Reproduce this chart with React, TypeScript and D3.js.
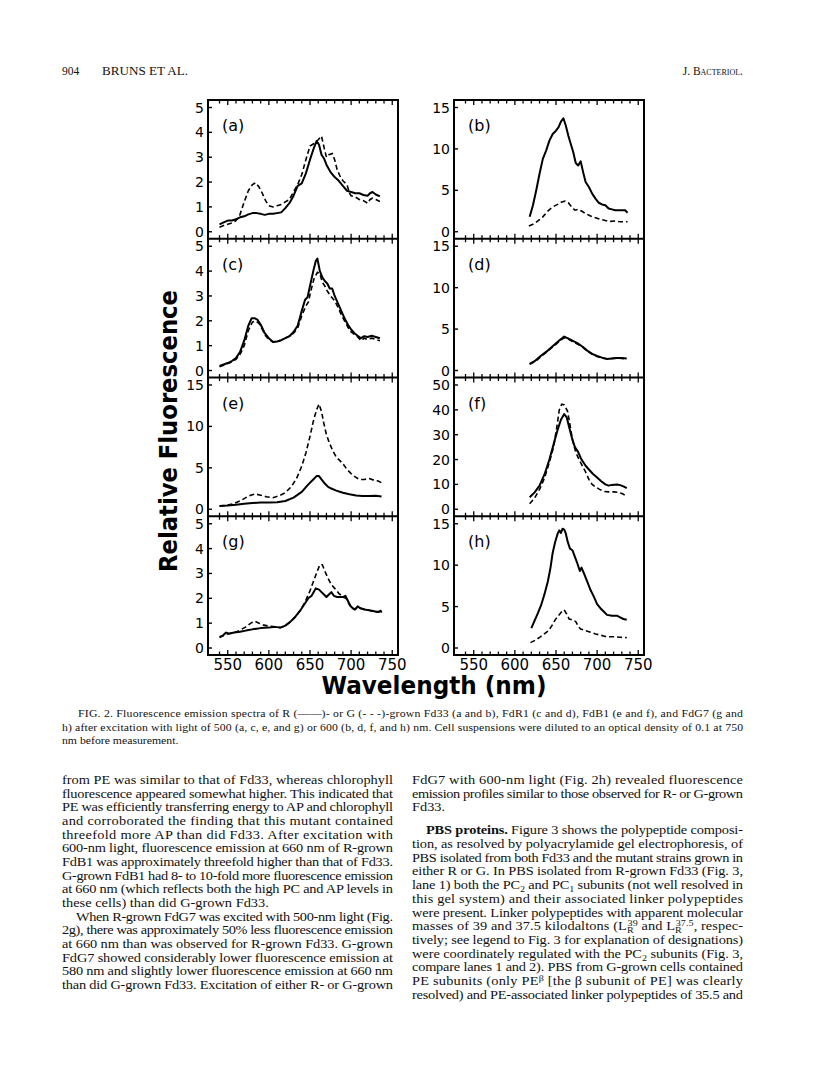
import React from "react";
import * as d3 from "d3";

// ---- data (wavelength nm, relative fluorescence) ----
const aR: [number, number][] = [[540,0.30],[545,0.38],[550,0.45],[555,0.45],[560,0.50],[565,0.58],[570,0.62],[575,0.70],[580,0.75],[585,0.75],[590,0.72],[595,0.68],[600,0.72],[605,0.72],[610,0.75],[615,0.78],[620,0.95],[625,1.15],[630,1.45],[635,1.85],[640,1.95],[645,2.35],[650,2.9],[655,3.4],[658,3.65],[661,3.5],[664,3.1],[667,2.95],[670,2.7],[675,2.4],[680,2.2],[685,2.05],[690,1.85],[695,1.65],[700,1.6],[705,1.55],[710,1.55],[715,1.48],[720,1.45],[723,1.55],[726,1.6],[730,1.5],[735,1.42]];
const aG: [number, number][] = [[540,0.18],[545,0.25],[550,0.30],[555,0.35],[560,0.45],[565,0.7],[570,1.2],[575,1.65],[580,1.9],[584,1.97],[588,1.8],[592,1.55],[596,1.25],[600,1.05],[605,1.0],[610,1.05],[615,1.1],[620,1.2],[625,1.3],[630,1.6],[635,1.9],[640,2.3],[645,2.9],[650,3.45],[655,3.55],[660,3.7],[664,3.85],[667,3.4],[670,3.0],[673,3.1],[677,3.15],[680,2.9],[683,2.5],[687,2.2],[690,2.05],[695,1.9],[698,1.55],[700,1.45],[705,1.4],[710,1.3],[715,1.25],[720,1.15],[723,1.3],[726,1.35],[730,1.3],[735,1.22]];
const bR: [number, number][] = [[618,1.8],[622,3.2],[626,5.0],[630,7.0],[634,8.8],[638,9.8],[642,11.0],[646,11.8],[650,12.2],[653,12.6],[656,13.3],[659,13.7],[662,12.8],[665,11.6],[668,10.6],[671,9.6],[674,8.3],[677,8.0],[680,8.5],[683,7.2],[686,6.0],[690,5.4],[694,4.6],[698,4.0],[702,3.5],[706,3.3],[710,3.2],[714,2.8],[718,2.7],[722,2.6],[726,2.6],[730,2.6],[734,2.6],[737,2.3]];
const bG: [number, number][] = [[617,0.7],[622,0.9],[628,1.3],[634,1.8],[640,2.5],[646,3.0],[652,3.3],[657,3.6],[661,3.7],[665,3.5],[669,3.0],[673,2.6],[677,2.7],[681,2.5],[686,2.2],[692,1.9],[698,1.7],[704,1.5],[710,1.35],[716,1.25],[722,1.3],[728,1.2],[734,1.2],[737,1.2]];
const cR: [number, number][] = [[540,0.18],[550,0.3],[555,0.38],[560,0.5],[565,0.75],[570,1.2],[575,1.8],[579,2.1],[583,2.1],[586,2.05],[590,1.85],[595,1.5],[600,1.3],[605,1.15],[610,1.17],[615,1.22],[620,1.3],[625,1.38],[630,1.55],[635,1.8],[640,2.4],[644,2.85],[647,2.95],[650,3.4],[654,4.0],[657,4.4],[659,4.5],[662,4.0],[665,3.75],[668,3.6],[671,3.5],[674,3.3],[677,3.3],[680,3.0],[684,2.7],[688,2.4],[692,2.1],[696,1.85],[700,1.65],[704,1.5],[708,1.4],[712,1.3],[716,1.38],[720,1.35],[725,1.4],[730,1.35],[735,1.3]];
const cG: [number, number][] = [[540,0.15],[550,0.28],[555,0.35],[560,0.45],[565,0.65],[570,1.0],[575,1.6],[580,1.95],[584,2.0],[588,1.9],[592,1.65],[596,1.4],[600,1.25],[605,1.15],[610,1.17],[615,1.22],[620,1.3],[625,1.38],[630,1.5],[635,1.7],[640,2.2],[645,2.6],[648,2.75],[651,3.2],[655,3.7],[659,3.95],[662,3.9],[665,3.55],[668,3.4],[671,3.2],[675,3.0],[680,2.8],[684,2.55],[688,2.25],[692,2.0],[696,1.75],[700,1.55],[704,1.45],[708,1.35],[712,1.2],[716,1.3],[720,1.25],[725,1.3],[730,1.25],[735,1.2]];
const dR: [number, number][] = [[618,0.8],[625,1.2],[632,1.8],[640,2.4],[648,3.1],[655,3.7],[660,4.1],[664,3.9],[670,3.6],[676,3.3],[682,2.9],[688,2.4],[694,2.0],[700,1.75],[706,1.55],[712,1.4],[718,1.45],[724,1.5],[730,1.5],[736,1.45]];
const dG: [number, number][] = [[618,0.75],[625,1.1],[632,1.7],[640,2.35],[648,3.0],[655,3.6],[660,3.95],[664,3.85],[670,3.5],[676,3.2],[682,2.85],[688,2.35],[694,1.95],[700,1.7],[706,1.5],[712,1.4],[718,1.45],[724,1.5],[730,1.45],[736,1.4]];
const eR: [number, number][] = [[540,0.4],[550,0.45],[560,0.55],[570,0.65],[580,0.75],[590,0.8],[600,0.8],[610,0.85],[620,1.0],[630,1.4],[640,2.1],[648,3.0],[654,3.6],[658,4.0],[661,4.0],[664,3.6],[668,3.1],[672,2.7],[676,2.5],[682,2.25],[690,2.0],[698,1.8],[706,1.65],[714,1.6],[722,1.6],[730,1.62],[737,1.55]];
const eG: [number, number][] = [[540,0.4],[550,0.5],[558,0.7],[565,1.0],[572,1.4],[578,1.7],[583,1.85],[590,1.7],[597,1.5],[605,1.4],[612,1.6],[620,2.0],[628,2.8],[634,3.8],[640,5.2],[645,6.8],[650,8.8],[654,10.6],[658,12.0],[661,12.7],[664,11.8],[667,10.3],[670,9.0],[674,7.9],[678,7.0],[682,6.3],[686,5.9],[690,5.5],[695,4.8],[700,4.3],[705,3.9],[710,3.6],[716,3.6],[722,3.7],[728,3.5],[733,3.4],[737,3.2]];
const fR: [number, number][] = [[618,4.8],[624,6.8],[630,9.5],[636,14],[642,20],[647,26],[652,32],[656,36],[660,38.3],[663,37],[666,33],[670,28],[673,25],[677,23],[681,20],[686,17.5],[690,16],[695,14.2],[700,12.8],[705,11.3],[710,10],[714,9.5],[718,9.8],[724,10],[728,9.7],[732,9.2],[736,8.5]];
const fG: [number, number][] = [[618,2.2],[624,4.5],[630,8],[636,12.5],[642,19],[647,25],[651,33],[654,40],[657,42.3],[660,42],[664,39.5],[667,34],[670,28],[674,23],[678,20],[682,17.5],[686,15],[690,12],[694,10],[698,9],[703,8],[708,7.2],[714,7],[720,7],[726,6.8],[731,6.2],[736,5.2]];
const gR: [number, number][] = [[540,0.45],[544,0.5],[548,0.62],[552,0.58],[558,0.62],[565,0.65],[572,0.7],[580,0.75],[590,0.8],[600,0.82],[608,0.85],[614,0.82],[620,0.9],[626,1.05],[632,1.25],[638,1.5],[644,1.8],[648,2.0],[652,2.1],[657,2.4],[661,2.35],[664,2.25],[667,2.15],[670,2.05],[673,2.15],[676,2.25],[679,2.1],[683,2.05],[687,2.05],[690,2.05],[693,2.1],[696,1.9],[699,1.7],[702,1.6],[705,1.55],[708,1.68],[711,1.6],[716,1.55],[722,1.52],[728,1.48],[733,1.45],[736,1.5],[737,1.42]];
const gG: [number, number][] = [[540,0.42],[548,0.55],[556,0.6],[564,0.7],[572,0.85],[578,1.0],[583,1.08],[588,1.0],[594,0.92],[600,0.88],[608,0.85],[614,0.82],[620,0.9],[626,1.05],[632,1.25],[638,1.5],[644,1.85],[650,2.3],[655,2.75],[659,3.1],[662,3.35],[665,3.35],[668,3.1],[672,2.8],[676,2.55],[680,2.4],[685,2.2],[690,2.05],[694,2.0],[697,1.8],[700,1.65],[704,1.55],[708,1.65],[712,1.6],[718,1.55],[724,1.5],[730,1.45],[735,1.45]];
const hR: [number, number][] = [[620,2.4],[624,3.3],[628,4.2],[632,5.2],[636,6.5],[640,8.0],[643,9.5],[646,11.5],[649,12.8],[652,13.8],[654,14.2],[656,13.9],[658,14.4],[660,14.3],[662,13.8],[664,12.9],[667,12.0],[670,11.8],[673,11.0],[676,10.2],[679,9.3],[681,9.7],[684,9.0],[688,8.0],[692,7.0],[696,6.2],[700,5.3],[704,4.8],[708,4.4],[712,4.0],[718,3.9],[724,3.9],[728,3.7],[732,3.5],[736,3.4]];
const hG: [number, number][] = [[619,0.65],[625,0.95],[631,1.35],[637,1.8],[641,2.1],[645,2.7],[649,3.4],[653,3.9],[657,4.4],[660,4.6],[663,4.1],[666,3.5],[670,3.4],[674,3.2],[677,2.6],[680,2.3],[686,2.1],[692,1.9],[698,1.7],[704,1.55],[710,1.4],[716,1.35],[722,1.35],[728,1.3],[736,1.25]];

const panelLabels = ["(a)", "(b)", "(c)", "(d)", "(e)", "(f)", "(g)", "(h)"];
const ticks5 = [0, 1, 2, 3, 4, 5];
const ticks15 = [0, 5, 10, 15];
const ticks50 = [0, 10, 20, 30, 40, 50];
const xTickLabels = [550, 600, 650, 700, 750];

const headerLeft = ["904", "BRUNS ET AL."];
const headerRight = "J. Bacteriol.";

// "|" at start = paragraph indent, "$" at end = last (ragged) line
const caption = [
  "|FIG. 2. Fluorescence emission spectra of R (——)- or G (- - -)-grown Fd33 (a and b), FdR1 (c and d), FdB1 (e and f), and FdG7 (g and",
  "h) after excitation with light of 500 (a, c, e, and g) or 600 (b, d, f, and h) nm. Cell suspensions were diluted to an optical density of 0.1 at 750",
  "nm before measurement.$",
];

const leftColumn = [
  "from PE was similar to that of Fd33, whereas chlorophyll",
  "fluorescence appeared somewhat higher. This indicated that",
  "PE was efficiently transferring energy to AP and chlorophyll",
  "and corroborated the finding that this mutant contained",
  "threefold more AP than did Fd33. After excitation with",
  "600-nm light, fluorescence emission at 660 nm of R-grown",
  "FdB1 was approximately threefold higher than that of Fd33.",
  "G-grown FdB1 had 8- to 10-fold more fluorescence emission",
  "at 660 nm (which reflects both the high PC and AP levels in",
  "these cells) than did G-grown Fd33.$",
  "|When R-grown FdG7 was excited with 500-nm light (Fig.",
  "2g), there was approximately 50% less fluorescence emission",
  "at 660 nm than was observed for R-grown Fd33. G-grown",
  "FdG7 showed considerably lower fluorescence emission at",
  "580 nm and slightly lower fluorescence emission at 660 nm",
  "than did G-grown Fd33. Excitation of either R- or G-grown",
];
const rightColumn = [
  "FdG7 with 600-nm light (Fig. 2h) revealed fluorescence",
  "emission profiles similar to those observed for R- or G-grown",
  "Fd33.$",
  "",
  "|**PBS proteins.** Figure 3 shows the polypeptide composi-",
  "tion, as resolved by polyacrylamide gel electrophoresis, of",
  "PBS isolated from both Fd33 and the mutant strains grown in",
  "either R or G. In PBS isolated from R-grown Fd33 (Fig. 3,",
  "lane 1) both the PC_{2} and PC_{1} subunits (not well resolved in",
  "this gel system) and their associated linker polypeptides",
  "were present. Linker polypeptides with apparent molecular",
  "masses of 39 and 37.5 kilodaltons (L_{R}^{39} and L_{R}^{37.5}, respec-",
  "tively; see legend to Fig. 3 for explanation of designations)",
  "were coordinately regulated with the PC_{2} subunits (Fig. 3,",
  "compare lanes 1 and 2). PBS from G-grown cells contained",
  "PE subunits (only PE^{β} [the β subunit of PE] was clearly",
  "resolved) and PE-associated linker polypeptides of 35.5 and",
];

// ---- layout ----
const W = 816;
const H = 1079;
const colX = [208, 454];
const colW = 190;
const top = 100;
const panelH = 138.75;
const x0 = 526;
const x1 = 757;

const panels = [
  { r: 0, c: 0, max: 5, ticks: ticks5, solid: aR, dash: aG },
  { r: 0, c: 1, max: 15, ticks: ticks15, solid: bR, dash: bG },
  { r: 1, c: 0, max: 5, ticks: ticks5, solid: cR, dash: cG },
  { r: 1, c: 1, max: 15, ticks: ticks15, solid: dR, dash: dG },
  { r: 2, c: 0, max: 15, ticks: ticks15, solid: eR, dash: eG },
  { r: 2, c: 1, max: 50, ticks: ticks50, solid: fR, dash: fG },
  { r: 3, c: 0, max: 5, ticks: ticks5, solid: gR, dash: gG },
  { r: 3, c: 1, max: 15, ticks: ticks15, solid: hR, dash: hG },
];

const sans = "'DejaVu Sans', sans-serif";
const serif = "'Liberation Serif', 'Times New Roman', serif";

type Seg = { t: string; sub?: boolean; sup?: boolean; bold?: boolean };

function parseLine(s: string): Seg[] {
  const out: Seg[] = [];
  const re = /\*\*(.+?)\*\*|_\{(.+?)\}|\^\{(.+?)\}|([^*_^]+)/g;
  let m;
  while ((m = re.exec(s))) {
    if (m[1]) out.push({ t: m[1], bold: true });
    else if (m[2]) out.push({ t: m[2], sub: true });
    else if (m[3]) out.push({ t: m[3], sup: true });
    else out.push({ t: m[4] });
  }
  return out;
}

// one line of page text, stretched horizontally like the scan; full lines are justified
function TextLine({ raw, x, y, width, size, sx, indentW = 14 }: { raw: string; x: number; y: number; width: number; size: number; sx: number; indentW?: number }) {
  let s = raw;
  let indent = 0;
  let last = false;
  if (s.startsWith("|")) { s = s.slice(1); indent = indentW; }
  if (s.endsWith("$")) { s = s.slice(0, -1); last = true; }
  const segs = parseLine(s);
  let off = 0;
  let prevSub: Seg | null = null;
  const spans = segs.map((g, i) => {
    const target = g.sub ? 3 : g.sup ? -4 : 0;
    const dy = target - off;
    off = target;
    let dx = 0;
    if (g.sup && prevSub) dx = -prevSub.t.length * size * 0.42;
    prevSub = g.sub ? g : null;
    return (
      <tspan key={i} dy={dy || undefined} dx={dx || undefined}
        fontSize={g.sub || g.sup ? size * 0.7 : undefined}
        fontWeight={g.bold ? "bold" : undefined}>{g.t}</tspan>
    );
  });
  return (
    <text transform={`translate(${x + indent},${y}) scale(${sx},1)`} fontFamily={serif} fontSize={size} fill="#111"
      textLength={last ? undefined : (width - indent) / sx} lengthAdjust="spacing">
      {spans}
    </text>
  );
}

export default function App() {
  const x = [0, 1].map((c) => d3.scaleLinear().domain([x0, x1]).range([colX[c], colX[c] + colW]));
  const minor = d3.range(540, 751, 10);

  return (
    <div style={{ position: "absolute", left: 0, top: 0, background: "#fff" }}>
      <svg width={W} height={H} style={{ display: "block" }}>
        <rect width={W} height={H} fill="#fff" />
        {/* running head */}
        <text x={62} y={75} fontFamily={serif} fontSize={11.5} fill="#111">{headerLeft[0]}</text>
        <text x={102} y={75} fontFamily={serif} fontSize={11.5} fill="#111" textLength={86} lengthAdjust="spacingAndGlyphs">{headerLeft[1]}</text>
        <text x={743} y={75} fontFamily={serif} fontSize={11.5} fill="#111" textAnchor="end" style={{ fontVariant: "small-caps" }}>{headerRight}</text>

        {panels.map((p, i) => {
          const px = colX[p.c];
          const py = top + p.r * panelH;
          const y = d3.scaleLinear().domain([0, p.max]).range([py + panelH - 7, py + 7.5]);
          const xs = x[p.c];
          const line = d3.line<[number, number]>().x((d) => xs(d[0])).y((d) => y(d[1]));
          return (
            <g key={i}>
              {p.ticks.map((t) => (
                <g key={t}>
                  <line x1={px} x2={px + 4} y1={y(t)} y2={y(t)} stroke="#000" strokeWidth={1.4} />
                  <text x={px - 4} y={y(t)} dy="0.36em" textAnchor="end" fontFamily={sans} fontSize={14} fill="#000">{t}</text>
                </g>
              ))}
              <text x={px + 14} y={py + 31} fontFamily={sans} fontSize={16} fill="#000">{panelLabels[i]}</text>
              <path d={line(p.dash) || ""} fill="none" stroke="#000" strokeWidth={1.6} strokeDasharray="5,3" />
              <path d={line(p.solid) || ""} fill="none" stroke="#000" strokeWidth={2} strokeLinejoin="round" />
            </g>
          );
        })}

        {[0, 1].map((c) => (
          <g key={c}>
            <rect x={colX[c]} y={top} width={colW} height={panelH * 4} fill="none" stroke="#000" strokeWidth={2} />
            {[0, 1, 2, 3, 4].map((b) => {
              const by = top + b * panelH;
              return (
                <g key={b}>
                  <line x1={colX[c]} x2={colX[c] + colW} y1={by} y2={by} stroke="#000" strokeWidth={2} />
                  {minor.map((t) => {
                    const len = t % 50 === 0 ? 5 : 3.5;
                    const up = b > 0 ? len : 0;
                    const down = b < 4 ? len : 0;
                    return <line key={t} x1={x[c](t)} x2={x[c](t)} y1={by - up} y2={by + down} stroke="#000" strokeWidth={1.3} />;
                  })}
                </g>
              );
            })}
            {xTickLabels.map((t) => (
              <text key={t} x={x[c](t)} y={670} textAnchor="middle" fontFamily={sans} fontSize={15} fill="#000">{t}</text>
            ))}
          </g>
        ))}

        <text transform="translate(177,431) rotate(-90)" textAnchor="middle" fontFamily={sans} fontWeight="bold" fontSize={25} fill="#000" textLength={282} lengthAdjust="spacingAndGlyphs">Relative Fluorescence</text>
        <text x={434} y={694} textAnchor="middle" fontFamily={sans} fontWeight="bold" fontSize={25} fill="#000" textLength={225} lengthAdjust="spacingAndGlyphs">Wavelength (nm)</text>

        {caption.map((l, i) => (
          <TextLine key={i} raw={l} x={62} y={717 + i * 13.5} width={681} size={10.5} sx={1.12} indentW={16} />
        ))}

        {leftColumn.map((l, i) => (
          <TextLine key={i} raw={l} x={62} y={784 + i * 13.67} width={331} size={12.5} sx={1.15} />
        ))}
        {rightColumn.map((l, i) => (
          l ? <TextLine key={i} raw={l} x={412} y={784 + i * 13.67 - (i > 3 ? 4.2 : 0)} width={331} size={12.5} sx={1.15} /> : null
        ))}
      </svg>
    </div>
  );
}
